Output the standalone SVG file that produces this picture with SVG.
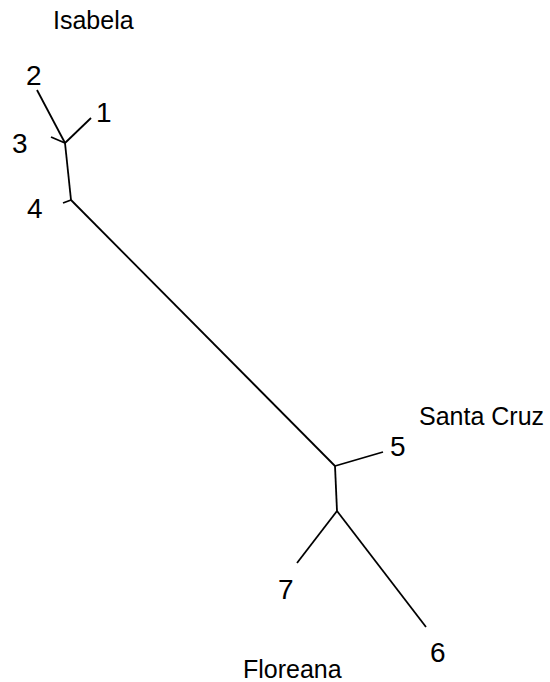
<svg xmlns="http://www.w3.org/2000/svg" width="550" height="682" viewBox="0 0 550 682">
<style>
.br{stroke:#000;stroke-width:1.8;fill:none;stroke-linecap:butt}
.num{font-family:"Liberation Sans",Arial,sans-serif;font-size:28px;fill:#000}
.lab{font-family:"Liberation Sans",Arial,sans-serif;font-size:25px;fill:#000}
</style>
<rect width="550" height="682" fill="#fff"/>
<g id="connectors">
<line class="br" x1="37" y1="90" x2="65" y2="143"/>
<line class="br" x1="91" y1="118" x2="65" y2="143"/>
<line class="br" x1="51" y1="137" x2="65" y2="143"/>
<line class="br" x1="65" y1="143" x2="71" y2="200"/>
<line class="br" x1="63" y1="203" x2="71" y2="200"/>
<line class="br" x1="71" y1="200" x2="335" y2="466"/>
<line class="br" x1="383" y1="452" x2="335" y2="466"/>
<line class="br" x1="335" y1="466" x2="337" y2="511"/>
<line class="br" x1="297" y1="563" x2="337" y2="511"/>
<line class="br" x1="426" y1="627" x2="337" y2="511"/>
</g>
<g id="n1"><text class="num" x="96" y="122">1</text></g>
<g id="n2"><text class="num" x="26" y="85">2</text></g>
<g id="n3"><text class="num" x="12" y="153">3</text></g>
<g id="n4"><text class="num" x="27" y="218">4</text></g>
<g id="n5"><text class="num" x="390" y="456">5</text></g>
<g id="n6"><text class="num" x="430" y="662">6</text></g>
<g id="n7"><text class="num" x="278" y="599">7</text></g>
<g id="isabela"><text class="lab" x="53" y="29">Isabela</text></g>
<g id="santacruz"><text class="lab" x="419" y="425">Santa Cruz</text></g>
<g id="floreana"><text class="lab" x="243" y="678">Floreana</text></g>
</svg>
